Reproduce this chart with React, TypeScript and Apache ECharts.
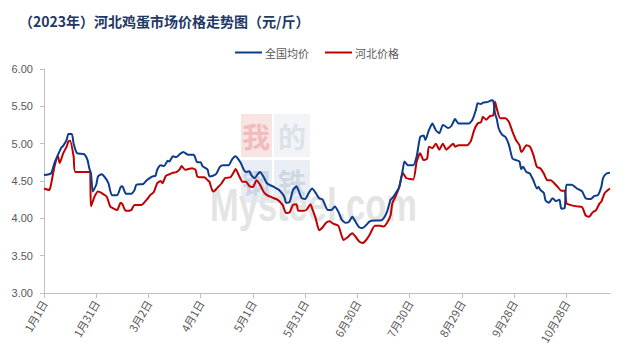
import React, { useEffect, useRef } from "react";
import * as echarts from "echarts";

// Day offsets counted from 1 Jan 2023 and the prices read at those days
const natDays = [0, 4, 6, 8, 10, 11, 13, 14, 16, 17, 19, 23, 25, 26, 27, 28, 30, 31, 33, 35, 37, 39, 42, 44, 45, 47, 50, 52, 53, 57, 59, 62, 64, 65, 67, 69, 71, 72, 74, 76, 78, 80, 82, 83, 86, 88, 90, 91, 93, 94, 95, 97, 99, 101, 103, 106, 108, 110, 111, 113, 115, 116, 118, 119, 121, 123, 124, 126, 128, 132, 135, 138, 139, 141, 143, 145, 146, 148, 150, 152, 154, 156, 158, 160, 161, 163, 165, 167, 169, 171, 173, 175, 177, 179, 181, 183, 185, 187, 190, 193, 195, 197, 199, 200, 202, 204, 206, 207, 209, 212, 214, 216, 218, 219, 221, 223, 225, 227, 229, 230, 232, 234, 236, 238, 240, 244, 246, 248, 249, 251, 252, 255, 257, 258, 259, 260, 261, 263, 265, 267, 269, 271, 273, 274, 275, 277, 279, 281, 283, 284, 285, 287, 288, 290, 292, 294, 296, 297, 299, 300, 303, 306, 309, 311, 314, 316, 318, 320, 321, 323, 325];
const natPrices = [4.58, 4.6, 4.74, 4.85, 4.95, 4.97, 5.05, 5.13, 5.13, 5.0, 4.87, 4.86, 4.78, 4.67, 4.6, 4.36, 4.45, 4.56, 4.59, 4.55, 4.47, 4.31, 4.31, 4.42, 4.43, 4.33, 4.33, 4.38, 4.45, 4.46, 4.51, 4.56, 4.57, 4.65, 4.71, 4.7, 4.77, 4.76, 4.83, 4.82, 4.86, 4.89, 4.86, 4.85, 4.85, 4.75, 4.75, 4.7, 4.67, 4.65, 4.56, 4.57, 4.6, 4.69, 4.71, 4.71, 4.79, 4.83, 4.81, 4.74, 4.64, 4.62, 4.63, 4.58, 4.54, 4.6, 4.62, 4.56, 4.47, 4.42, 4.38, 4.29, 4.21, 4.22, 4.38, 4.43, 4.38, 4.27, 4.26, 4.34, 4.4, 4.34, 4.27, 4.25, 4.2, 4.11, 4.11, 4.16, 4.09, 3.98, 3.94, 3.95, 4.02, 3.95, 3.88, 3.87, 3.91, 3.96, 3.97, 3.97, 4.0, 4.09, 4.25, 4.27, 4.34, 4.42, 4.65, 4.76, 4.71, 4.71, 4.83, 5.09, 5.11, 5.05, 5.18, 5.27, 5.18, 5.14, 5.25, 5.24, 5.21, 5.24, 5.33, 5.27, 5.27, 5.27, 5.32, 5.45, 5.54, 5.53, 5.55, 5.56, 5.58, 5.57, 5.4, 5.33, 5.21, 5.12, 5.09, 4.98, 4.8, 4.78, 4.76, 4.66, 4.69, 4.62, 4.6, 4.51, 4.4, 4.42, 4.38, 4.34, 4.24, 4.21, 4.27, 4.23, 4.25, 4.13, 4.14, 4.45, 4.45, 4.4, 4.36, 4.27, 4.26, 4.3, 4.31, 4.42, 4.54, 4.6, 4.61];

const hbDays = [0, 3, 4, 6, 8, 9, 11, 13, 14, 15, 17, 18, 26, 27, 29, 31, 33, 36, 38, 40, 42, 44, 45, 47, 50, 52, 56, 59, 61, 63, 65, 67, 68, 70, 72, 74, 76, 78, 79, 81, 83, 85, 87, 88, 90, 92, 94, 95, 97, 98, 100, 102, 104, 107, 109, 110, 112, 114, 116, 118, 120, 122, 124, 126, 128, 131, 134, 137, 139, 141, 143, 145, 146, 149, 151, 153, 154, 156, 158, 160, 162, 164, 166, 169, 171, 172, 174, 177, 179, 181, 183, 185, 187, 190, 193, 195, 197, 199, 200, 202, 204, 206, 208, 212, 214, 216, 218, 220, 221, 223, 225, 227, 229, 231, 233, 235, 236, 238, 243, 245, 247, 249, 251, 252, 254, 256, 258, 259, 260, 262, 265, 267, 269, 271, 273, 274, 275, 277, 279, 281, 283, 285, 287, 289, 291, 293, 295, 297, 299, 300, 302, 306, 309, 311, 313, 315, 317, 319, 320, 322, 325];
const hbPrices = [4.4, 4.38, 4.45, 4.69, 4.83, 4.74, 4.87, 4.96, 5.03, 5.04, 4.83, 4.62, 4.62, 4.16, 4.29, 4.36, 4.34, 4.29, 4.16, 4.13, 4.11, 4.21, 4.19, 4.1, 4.11, 4.18, 4.18, 4.25, 4.31, 4.35, 4.47, 4.5, 4.47, 4.57, 4.59, 4.61, 4.62, 4.66, 4.7, 4.65, 4.66, 4.67, 4.65, 4.56, 4.55, 4.55, 4.51, 4.49, 4.36, 4.37, 4.42, 4.47, 4.54, 4.55, 4.62, 4.66, 4.57, 4.49, 4.49, 4.43, 4.42, 4.51, 4.45, 4.36, 4.31, 4.28, 4.25, 4.18, 4.07, 4.08, 4.18, 4.19, 4.1, 4.1, 4.12, 4.19, 4.13, 4.0, 3.84, 3.88, 3.94, 3.96, 3.93, 3.9, 3.76, 3.71, 3.74, 3.8, 3.75, 3.69, 3.67, 3.71, 3.78, 3.9, 3.9, 3.89, 3.94, 4.04, 4.2, 4.3, 4.42, 4.61, 4.54, 4.52, 4.76, 4.87, 4.78, 4.8, 4.96, 4.94, 5.0, 4.92, 5.0, 4.92, 4.96, 5.0, 4.96, 4.98, 4.98, 5.03, 5.18, 5.27, 5.29, 5.36, 5.32, 5.37, 5.38, 5.56, 5.47, 5.34, 5.34, 5.29, 5.16, 5.05, 4.98, 4.89, 4.91, 4.98, 4.96, 4.85, 4.69, 4.67, 4.6, 4.51, 4.51, 4.47, 4.42, 4.37, 4.37, 4.2, 4.18, 4.16, 4.15, 4.04, 4.02, 4.08, 4.11, 4.2, 4.22, 4.34, 4.4];

const tickDays = [0, 30, 60, 90, 120, 150, 180, 210, 240, 270, 300];
const lastDay = 325;
const seriesNames = ["全国均价", "河北价格"];
const titleText = "（2023年）河北鸡蛋市场价格走势图（元/斤）";

const dayLabel = (v: number) => {
  const d = new Date(2023, 0, 1 + Math.round(v));
  return `${d.getMonth() + 1}月${d.getDate()}日`;
};

export default function App() {
  const ref = useRef<HTMLDivElement>(null);
  useEffect(() => {
    if (!ref.current) return;
    const chart = echarts.init(ref.current, null, { renderer: "svg" });
    const nat = natDays.map((d, i) => [d, natPrices[i]]);
    const hb = hbDays.map((d, i) => [d, hbPrices[i]]);
    const axisGray = "#bfbfbf";
    const labelGray = "#595959";
    const wmFont = "bold 28px 'Noto Sans CJK SC'";
    chart.setOption({
      animation: false,
      backgroundColor: "#ffffff",
      title: {
        text: titleText,
        left: 14,
        top: 9,
        textStyle: {
          fontFamily: "Noto Sans CJK SC",
          fontWeight: "bold",
          fontSize: 14,
          color: "#1f3864",
        },
      },
      legend: {
        left: 230,
        top: 42,
        icon: "rect",
        itemWidth: 27,
        itemHeight: 2,
        itemGap: 16,
        data: seriesNames,
        textStyle: { fontSize: 11, color: labelGray, fontFamily: "Noto Sans CJK SC", padding: [0, 0, 0, -2] },
      },
      graphic: [
        { type: "rect", z: 0, shape: { x: 241, y: 114, width: 31, height: 43 }, style: { fill: "#f9e4e4" } },
        { type: "text", z: 0, x: 256, y: 136, style: { text: "我", fill: "#f0bcbc", font: wmFont, align: "center", verticalAlign: "middle" } },
        { type: "rect", z: 0, shape: { x: 274, y: 114, width: 36, height: 43 }, style: { fill: "#f2f4f7" } },
        { type: "text", z: 0, x: 292, y: 136, style: { text: "的", fill: "#dde1e8", font: wmFont, align: "center", verticalAlign: "middle" } },
        { type: "rect", z: 0, shape: { x: 241, y: 160, width: 31, height: 43 }, style: { fill: "#e9eef6" } },
        { type: "text", z: 0, x: 256, y: 182, style: { text: "钢", fill: "#cbd5e5", font: wmFont, align: "center", verticalAlign: "middle" } },
        { type: "rect", z: 0, shape: { x: 274, y: 160, width: 36, height: 43 }, style: { fill: "#ebeff5" } },
        { type: "text", z: 0, x: 292, y: 182, style: { text: "铁", fill: "#cfd7e3", font: wmFont, align: "center", verticalAlign: "middle" } },
        { type: "text", z: 0, x: 210, y: 228, scaleX: 0.75, style: { text: "Mysteel.com", fill: "#e4e4e4", font: "bold 46px 'Liberation Sans'", align: "left", verticalAlign: "bottom" } },
      ],
      grid: { left: 44, right: 15, top: 69, bottom: 64 },
      xAxis: {
        type: "value",
        min: 0,
        max: lastDay,
        interval: 30,
        splitLine: { show: false },
        axisLine: { show: true, lineStyle: { color: axisGray } },
        axisTick: { show: true, length: 5, lineStyle: { color: axisGray }, customValues: tickDays },
        axisLabel: {
          customValues: tickDays,
          rotate: 60,
          fontSize: 11,
          color: labelGray,
          margin: 8,
          fontFamily: "Noto Sans CJK SC",
          formatter: (v: number) => dayLabel(v),
        },
      },
      yAxis: {
        type: "value",
        min: 3,
        max: 6,
        interval: 0.5,
        splitLine: { show: false },
        axisLine: { show: true, lineStyle: { color: axisGray } },
        axisTick: { show: true, length: 4, lineStyle: { color: axisGray } },
        axisLabel: {
          fontSize: 11,
          color: labelGray,
          margin: 11,
          fontFamily: "Liberation Sans",
          formatter: (v: number) => v.toFixed(2),
        },
      },
      series: [
        {
          name: seriesNames[0],
          type: "line",
          data: nat,
          symbol: "none",
          smooth: 0.2,
          z: 3,
          lineStyle: { width: 2, color: "#0c3c8c" },
          itemStyle: { color: "#0c3c8c" },
        },
        {
          name: seriesNames[1],
          type: "line",
          data: hb,
          symbol: "none",
          smooth: 0.2,
          z: 2,
          lineStyle: { width: 2, color: "#c00000" },
          itemStyle: { color: "#c00000" },
        },
      ],
    });
    return () => chart.dispose();
  }, []);
  return (
    <div
      ref={ref}
      style={{ position: "fixed", left: 0, top: 0, width: 625, height: 357, background: "#fff" }}
    />
  );
}
